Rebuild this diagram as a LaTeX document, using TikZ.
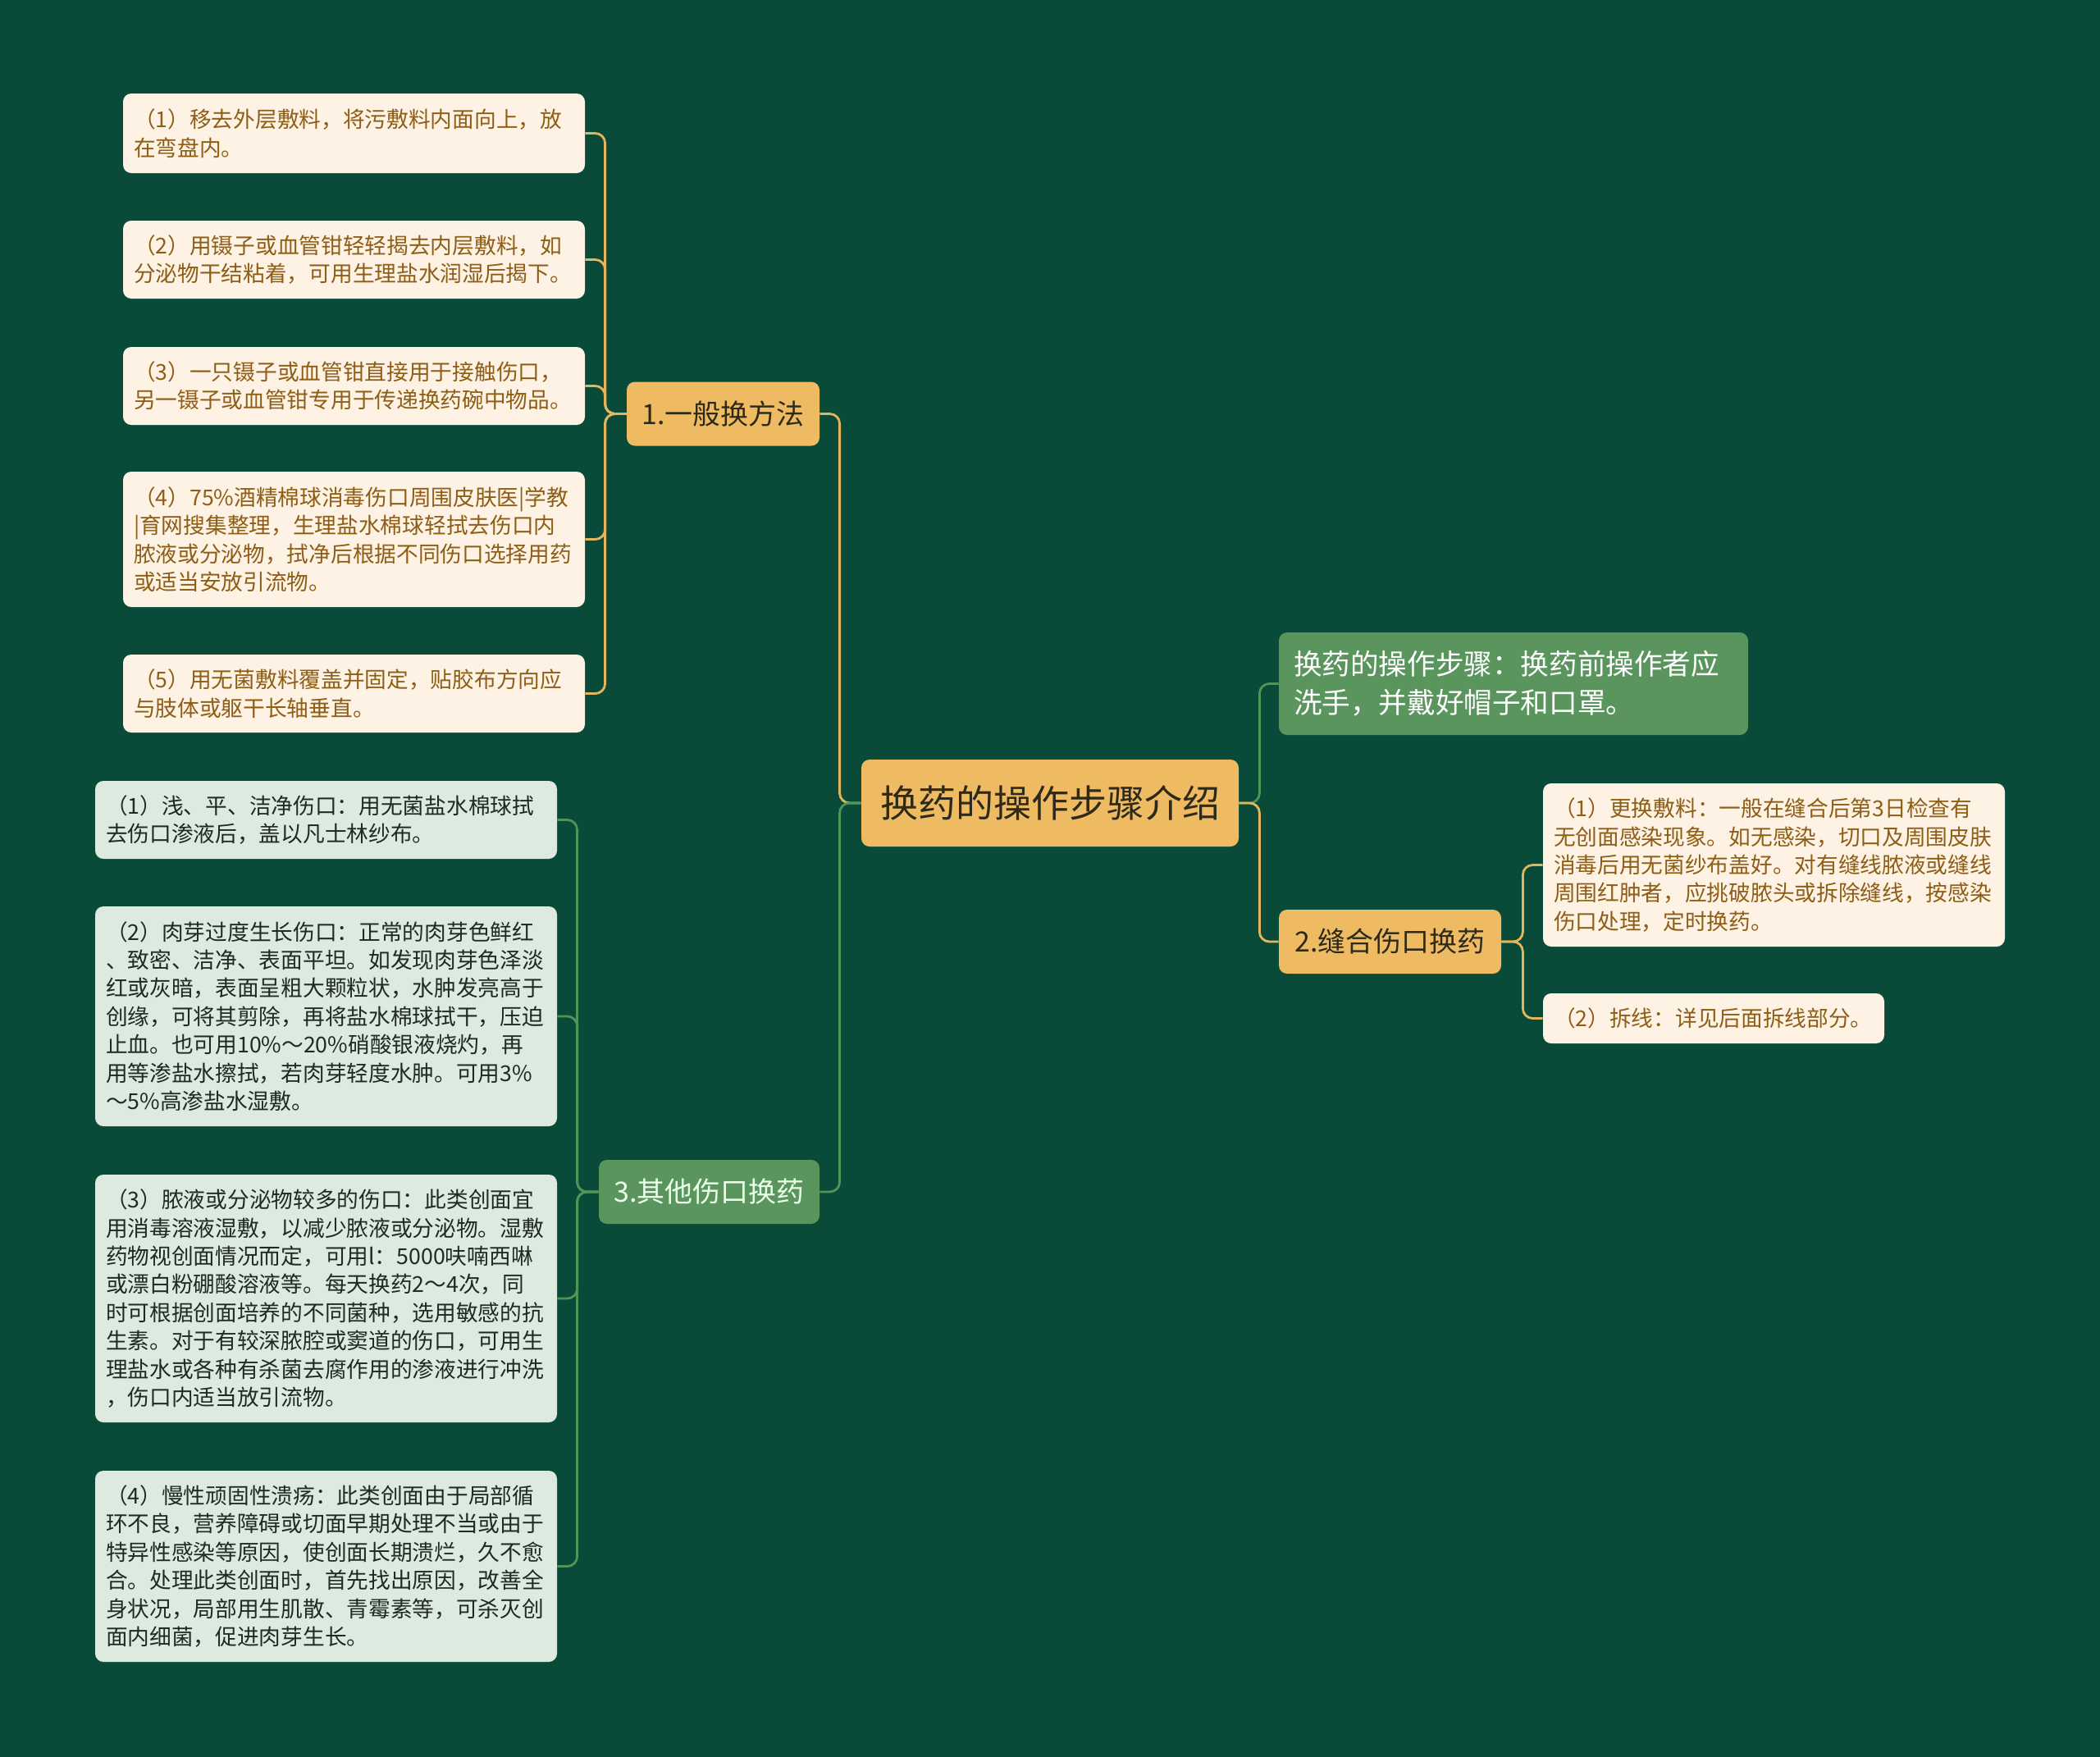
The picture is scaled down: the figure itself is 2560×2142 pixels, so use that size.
\documentclass[tikz,border=0pt]{standalone}
\usepackage{fontspec}
\setmainfont{Noto Sans CJK SC}
\definecolor{bgc}{HTML}{094A39}
\definecolor{ylfill}{HTML}{EFBB62}
\definecolor{yltext}{HTML}{2E2A1A}
\definecolor{crfill}{HTML}{FDF2E3}
\definecolor{crtext}{HTML}{8E5E16}
\definecolor{gnfill}{HTML}{5A955E}
\definecolor{lgfill}{HTML}{DDEADF}
\definecolor{lgtext}{HTML}{1F2A20}
\definecolor{yline}{HTML}{E3B65E}
\definecolor{gline}{HTML}{4F9458}
\tikzset{
  base/.style={rounded corners=5pt, inner ysep=0pt},
  rootbox/.style={base, fill=ylfill, text=yltext, minimum width=230pt, minimum height=53pt,
    font=\fontsize{23pt}{28pt}\selectfont},
  ybranch/.style={base, fill=ylfill, text=yltext, minimum height=39pt,
    font=\fontsize{17pt}{21pt}\selectfont},
  gbranch/.style={base, fill=gnfill, text=white!92!green, minimum height=39pt,
    font=\fontsize{17pt}{21pt}\selectfont},
  gtopbox/.style={base, fill=gnfill, text=white, minimum width=286pt, text width=268pt,
    inner xsep=9pt, align=left, font=\fontsize{17.3pt}{23.5pt}\selectfont},
  crbox/.style={base, fill=crfill, text=crtext, minimum width=281.5pt, text width=268.5pt,
    inner xsep=6.5pt, align=left, font=\fontsize{13.35pt}{17.2pt}\selectfont},
  lgbox/.style={base, fill=lgfill, text=lgtext, minimum width=281.5pt, text width=268.5pt,
    inner xsep=6.5pt, align=left, font=\fontsize{13.35pt}{17.2pt}\selectfont},
  yconn/.style={draw=yline, line width=1.4pt, rounded corners=6pt},
  gconn/.style={draw=gline, line width=1.4pt, rounded corners=6pt}
}
\begin{document}
\begin{tikzpicture}[x=0.5pt,y=-0.5pt]
\fill[bgc] (0,0) rectangle (2560,2142);
\useasboundingbox (0,0) rectangle (2560,2142);

% centre
\node[rootbox] (root) at (1280,979) {换药的操作步骤介绍};

% branch 1
\node[ybranch, minimum width=117.5pt] (b1) at (881.5,504.5) {1.一般换方法};
\node[crbox, minimum height=48.5pt] (L1) at (431.5,162.5) {（1）移去外层敷料，将污敷料内面向上，放\\在弯盘内。};
\node[crbox, minimum height=47.5pt] (L2) at (431.5,316.5) {（2）用镊子或血管钳轻轻揭去内层敷料，如\\分泌物干结粘着，可用生理盐水润湿后揭下。};
\node[crbox, minimum height=47.5pt] (L3) at (431.5,470.5) {（3）一只镊子或血管钳直接用于接触伤口，\\另一镊子或血管钳专用于传递换药碗中物品。};
\node[crbox, minimum height=82.5pt] (L4) at (431.5,657.5) {（4）75\%酒精棉球消毒伤口周围皮肤医|学教\\|育网搜集整理，生理盐水棉球轻拭去伤口内\\脓液或分泌物，拭净后根据不同伤口选择用药\\或适当安放引流物。};
\node[crbox, minimum height=47.5pt] (L5) at (431.5,845.5) {（5）用无菌敷料覆盖并固定，贴胶布方向应\\与肢体或躯干长轴垂直。};

% branch 3
\node[gbranch, minimum width=134.5pt] (b3) at (864.5,1453) {3.其他伤口换药};
\node[lgbox, minimum height=47.5pt] (G1) at (397.5,999.5) {（1）浅、平、洁净伤口：用无菌盐水棉球拭\\去伤口渗液后，盖以凡士林纱布。};
\node[lgbox, minimum height=134pt] (G2) at (397.5,1239) {（2）肉芽过度生长伤口：正常的肉芽色鲜红\\、致密、洁净、表面平坦。如发现肉芽色泽淡\\红或灰暗，表面呈粗大颗粒状，水肿发亮高于\\创缘，可将其剪除，再将盐水棉球拭干，压迫\\止血。也可用10\%～20\%硝酸银液烧灼，再\\用等渗盐水擦拭，若肉芽轻度水肿。可用3\%\\～5\%高渗盐水湿敷。};
\node[lgbox, minimum height=151pt] (G3) at (397.5,1583) {（3）脓液或分泌物较多的伤口：此类创面宜\\用消毒溶液湿敷，以减少脓液或分泌物。湿敷\\药物视创面情况而定，可用l：5000呋喃西啉\\或漂白粉硼酸溶液等。每天换药2～4次，同\\时可根据创面培养的不同菌种，选用敏感的抗\\生素。对于有较深脓腔或窦道的伤口，可用生\\理盐水或各种有杀菌去腐作用的渗液进行冲洗\\，伤口内适当放引流物。};
\node[lgbox, minimum height=116.5pt] (G4) at (397.5,1909.5) {（4）慢性顽固性溃疡：此类创面由于局部循\\环不良，营养障碍或切面早期处理不当或由于\\特异性感染等原因，使创面长期溃烂，久不愈\\合。处理此类创面时，首先找出原因，改善全\\身状况，局部用生肌散、青霉素等，可杀灭创\\面内细菌，促进肉芽生长。};

% right side
\node[gtopbox, minimum height=62.5pt] (gtop) at (1845,833.5) {换药的操作步骤：换药前操作者应\\洗手，并戴好帽子和口罩。};
\node[ybranch, minimum width=135.5pt] (b2) at (1694.5,1148) {2.缝合伤口换药};
\node[crbox, minimum height=99.5pt] (R1) at (2162.5,1054.5) {（1）更换敷料：一般在缝合后第3日检查有\\无创面感染现象。如无感染，切口及周围皮肤\\消毒后用无菌纱布盖好。对有缝线脓液或缝线\\周围红肿者，应挑破脓头或拆除缝线，按感染\\伤口处理，定时换药。};
\node[crbox, minimum width=208pt, text width=195pt, minimum height=30.5pt] (R2) at (2089,1241.5) {（2）拆线：详见后面拆线部分。};

% connectors
\draw[yconn] (root.west) -- ++(-26,0) |- (b1.east);
\draw[gconn] (root.west) -- ++(-26,0) |- (b3.east);
\draw[gconn] (root.east) -- ++(25,0) |- (gtop.west);
\draw[yconn] (root.east) -- ++(25,0) |- (b2.west);
\foreach \n in {L1,L2,L3,L4,L5}{
  \draw[yconn] (b1.west) -- ++(-26,0) |- (\n.east);
}
\foreach \n in {G1,G2,G3,G4}{
  \draw[gconn] (b3.west) -- ++(-26,0) |- (\n.east);
}
\foreach \n in {R1,R2}{
  \draw[yconn] (b2.east) -- ++(26,0) |- (\n.west);
}
\end{tikzpicture}
\end{document}
